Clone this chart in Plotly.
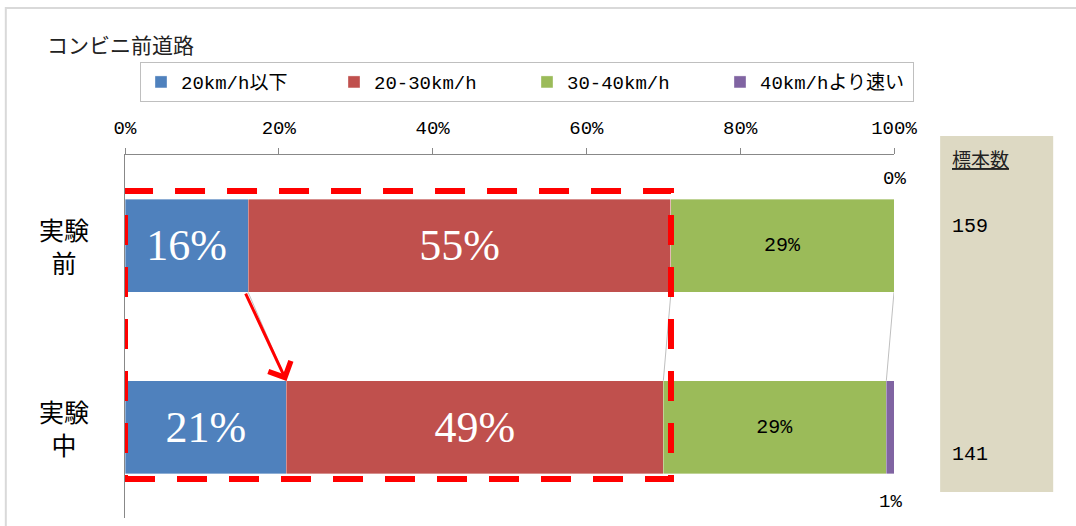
import plotly.graph_objects as go

# ---- data ----
categories = ["実験前", "実験中"]
series_names = ["20km/h以下", "20-30km/h", "30-40km/h", "40km/hより速い"]
v_le20 = [16, 21]
v_20_30 = [55, 49]
v_30_40 = [29, 29]
v_gt40 = [0, 1]
sample_sizes = [159, 141]
sample_header = "標本数"
x_ticks = [0, 20, 40, 60, 80, 100]
title_text = "コンビニ前道路"

colors = ["#4F81BD", "#C0504D", "#9BBB59", "#8064A2"]
series_vals = [v_le20, v_20_30, v_30_40, v_gt40]

JP = "Noto Sans CJK JP"
MONO = "Liberation Mono, Noto Sans CJK JP"
SERIF = "Liberation Serif, Noto Serif CJK JP"

n = len(categories)
ypos = [n - 1 - i for i in range(n)]  # first category on top
BW = 0.51
HALF = BW / 2

fig = go.Figure()
text_fonts = [
    dict(family=SERIF, size=44, color="white"),
    dict(family=SERIF, size=44, color="white"),
    dict(family=MONO, size=20, color="black"),
    None,
]
for name, vals, col, tf in zip(series_names, series_vals, colors, text_fonts):
    if tf is not None:
        kw = dict(text=[f"{v}%" for v in vals], textposition="inside",
                  insidetextanchor="middle", textfont=tf)
    else:
        kw = dict(textposition="none")
    fig.add_trace(go.Bar(
        name=name, x=vals, y=ypos, orientation="h", width=BW,
        marker=dict(color=col, line=dict(width=0.6, color="rgba(255,255,255,0.6)")),
        hoverinfo="skip", **kw))

# cumulative edges
cums = []
for i in range(n):
    c, acc = [], 0
    for vals in series_vals:
        acc += vals[i]
        c.append(acc)
    cums.append(c)

shapes = []
# series lines between the two bars
for k in range(len(series_vals) - 1):
    shapes.append(dict(type="line", xref="x", yref="y",
                       x0=cums[0][k], y0=ypos[0] - HALF,
                       x1=cums[1][k], y1=ypos[1] + HALF,
                       line=dict(color="#BFBFBF", width=1), layer="below"))
# red dashed highlight box
shapes.append(dict(type="rect", xref="x", yref="y",
                   x0=0, x1=cums[0][1], y0=ypos[1] - HALF - 0.03, y1=ypos[0] + HALF + 0.047,
                   line=dict(color="#FF0000", width=6, dash="30px,22px"),
                   fillcolor="rgba(0,0,0,0)", layer="above"))
# sample size panel
shapes.append(dict(type="rect", xref="paper", yref="paper",
                   x0=1.06, x1=1.207, y0=0.0716, y1=1.052,
                   fillcolor="#DDD9C3", line=dict(width=0), layer="below"))
# outer chart frame
shapes.append(dict(type="rect", xref="paper", yref="paper",
                   x0=-0.155, x1=1.4, y0=-0.2, y1=1.405,
                   line=dict(color="#D9D9D9", width=2), fillcolor="rgba(0,0,0,0)",
                   layer="below"))

annotations = []
# title
annotations.append(dict(text=title_text, xref="paper", yref="paper", x=-0.104, y=1.306,
                        xanchor="left", yanchor="middle", showarrow=False,
                        font=dict(family=JP, size=21, color="#222222")))
# category labels
for cat, y in zip(categories, ypos):
    lab = cat[:2] + "<br>" + cat[2:]
    annotations.append(dict(text=lab, xref="paper", yref="y", x=-0.079, y=y,
                            xanchor="center", yanchor="middle", showarrow=False, align="center",
                            font=dict(family=JP, size=25, color="black")))
# outside labels for the last series
purple = series_vals[-1]
annotations.append(dict(text=f"{purple[0]}%", xref="x", yref="y",
                        x=cums[0][-1], y=ypos[0] + HALF, yshift=20, showarrow=False,
                        xanchor="center", yanchor="middle",
                        font=dict(family=MONO, size=19, color="black")))
annotations.append(dict(text=f"{purple[1]}%", xref="x", yref="y",
                        x=cums[1][-1] - purple[1] / 2, y=ypos[1] - HALF, yshift=-28,
                        showarrow=False, xanchor="center", yanchor="middle",
                        font=dict(family=MONO, size=19, color="black")))
# red arrow
annotations.append(dict(x=cums[1][0], y=ypos[1] + HALF, ax=cums[0][0] - 0.4, ay=ypos[0] - HALF,
                        xref="x", yref="y", axref="x", ayref="y", text="", showarrow=True,
                        arrowhead=4, arrowsize=1.6, arrowwidth=3, arrowcolor="#FF0000"))
# sample size column
annotations.append(dict(text=f"<u>{sample_header}</u>", xref="paper", yref="paper",
                        x=1.0728, y=0.9917, xanchor="left", yanchor="middle", showarrow=False,
                        font=dict(family=JP, size=19, color="#222222")))
for s, yy in zip(sample_sizes, [0.8017, 0.1736]):
    annotations.append(dict(text=str(s), xref="paper", yref="paper", x=1.0728, y=yy,
                            xanchor="left", yanchor="middle", showarrow=False,
                            font=dict(family=MONO, size=20, color="black")))

fig.update_layout(
    width=1076, height=526,
    margin=dict(l=125, r=182, t=155, b=8, autoexpand=False),
    barmode="stack",
    plot_bgcolor="white", paper_bgcolor="white",
    showlegend=True,
    legend=dict(orientation="h", x=(140 - 125) / 769, y=1.256, xanchor="left", yanchor="top",
                traceorder="normal", bordercolor="#BFBFBF", borderwidth=1,
                entrywidth=148, entrywidthmode="pixels",
                font=dict(family=MONO, size=19, color="black")),
    xaxis=dict(side="top", range=[0, 100], tickvals=x_ticks,
               ticktext=[f"{t}%" for t in x_ticks], showgrid=False, zeroline=False,
               showline=True, linecolor="#888888", linewidth=1,
               ticks="outside", ticklen=6, tickcolor="#888888", ticklabelstandoff=6,
               tickfont=dict(family=MONO, size=19, color="black")),
    yaxis=dict(range=[-0.5, n - 0.5], showticklabels=False, showgrid=False,
               zeroline=False, showline=True, linecolor="#888888", linewidth=1, ticks=""),
    shapes=shapes, annotations=annotations,
)

fig.write_html("out.html")
